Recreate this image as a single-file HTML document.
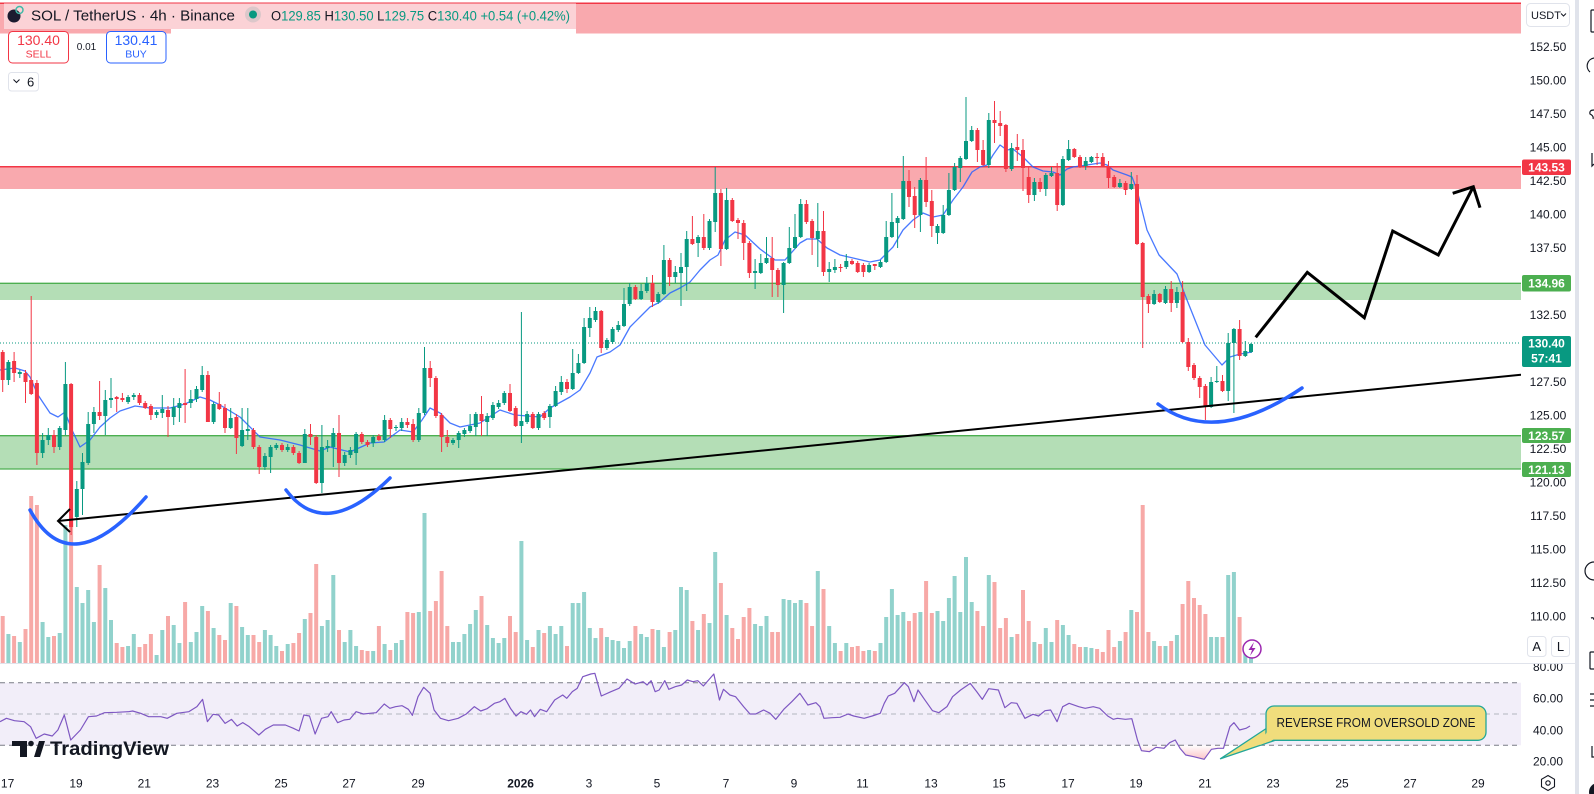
<!DOCTYPE html>
<html><head><meta charset="utf-8">
<style>
html,body{margin:0;padding:0;background:#fff;overflow:hidden;}
svg{display:block;font-family:"Liberation Sans",sans-serif;}
</style></head>
<body>
<svg width="1594" height="794" viewBox="0 0 1594 794" xmlns="http://www.w3.org/2000/svg">
<defs>
<clipPath id="cp"><rect x="0" y="0" width="1521" height="663"/></clipPath>
<clipPath id="cr"><rect x="0" y="664" width="1521" height="102"/></clipPath>
<clipPath id="os"><rect x="0" y="745.3" width="1521" height="25"/></clipPath>
<clipPath id="ax2"><rect x="1521" y="664" width="54" height="102"/></clipPath>
<linearGradient id="og" x1="0" y1="255" x2="0" y2="306" gradientUnits="userSpaceOnUse"><stop offset="0" stop-color="#f23645" stop-opacity="0"/><stop offset="1" stop-color="#f23645" stop-opacity="0.35"/></linearGradient>
</defs>
<rect width="1594" height="794" fill="#fff"/>

<g clip-path="url(#cp)">
 <rect x="0" y="3" width="1521" height="30.5" fill="#f9a9ae"/>
 <line x1="0" y1="3.2" x2="1521" y2="3.2" stroke="#f23645" stroke-width="1.5"/>
 <rect x="0" y="166.7" width="1521" height="22.3" fill="#f9a9ae"/>
 <line x1="0" y1="166.7" x2="1521" y2="166.7" stroke="#f23645" stroke-width="1.5"/>
 <rect x="0" y="283.3" width="1521" height="16.7" fill="#b4deb6"/>
 <line x1="0" y1="283.3" x2="1521" y2="283.3" stroke="#4caf50" stroke-width="1.3"/>
 <rect x="0" y="435.7" width="1521" height="33.3" fill="#b4deb6"/>
 <line x1="0" y1="435.7" x2="1521" y2="435.7" stroke="#4caf50" stroke-width="1.3"/>
 <line x1="0" y1="469" x2="1521" y2="469" stroke="#4caf50" stroke-width="1.3"/>
 <line x1="0" y1="343" x2="1521" y2="343" stroke="#089981" stroke-width="1" stroke-dasharray="1 2"/>

 <g transform="translate(2.7 0) scale(5.7 1)" fill="none">
  <path stroke="#91d2cc" stroke-width="4" vector-effect="non-scaling-stroke" d="M1 634V663M3 642V663M7 622V663M8 637V663M10 633V663M11 525V663M13 587V663M14 603V663M15 590V663M16 622V663M18 588V663M19 620V663M22 646V663M23 634V663M27 655V663M28 630V663M30 625V663M31 643V663M33 642V663M34 632V663M35 606V663M37 628V663M40 603V663M42 627V663M43 635V663M46 630V663M47 635V663M48 646V663M50 644V663M53 619V663M56 626V663M57 620V663M58 575V663M60 642V663M61 630V663M62 646V663M65 651V663M67 644V663M69 643V663M70 640V663M73 612V663M74 513V663M79 642V663M80 642V663M81 634V663M82 624V663M83 610V663M85 625V663M86 638V663M87 643V663M88 638V663M91 541V663M92 640V663M94 630V663M96 626V663M97 634V663M98 626V663M100 603V663M101 603V663M102 592V663M103 628V663M104 638V663M106 637V663M107 640V663M108 641V663M109 648V663M110 641V663M112 634V663M113 637V663M115 630V663M116 647V663M118 630V663M119 587V663M120 590V663M122 630V663M124 623V663M125 552V663M127 615V663M132 624V663M133 626V663M134 616V663M137 599V663M138 600V663M139 603V663M140 600V663M143 571V663M145 626V663M146 643V663M148 643V663M152 650V663M154 643V663M155 617V663M156 589V663M157 615V663M158 612V663M161 612V663M164 611V663M165 621V663M166 598V663M167 576V663M168 612V663M169 557V663M170 602V663M173 575V663M177 637V663M181 642V663M183 628V663M184 642V663M186 625V663M187 635V663M190 647V663M191 648V663M196 641V663M198 610V663M202 641V663M204 646V663M206 635V663M212 637V663M213 637V663M215 575V663M216 572V663M218 650V663M219 652V663"/>
  <path stroke="#f7a9a7" stroke-width="4" vector-effect="non-scaling-stroke" d="M0 616V663M2 636V663M4 629V663M5 496V663M6 505V663M9 636V663M12 517V663M17 565V663M20 643V663M21 647V663M24 647V663M25 644V663M26 634V663M29 616V663M32 602V663M36 611V663M38 635V663M39 640V663M41 606V663M44 635V663M45 642V663M49 651V663M51 643V663M52 633V663M54 613V663M55 564V663M59 630V663M63 650V663M64 651V663M66 626V663M68 650V663M71 612V663M72 613V663M75 611V663M76 601V663M77 571V663M78 626V663M84 596V663M89 616V663M90 632V663M93 647V663M95 633V663M99 646V663M105 628V663M111 626V663M114 629V663M117 632V663M121 621V663M123 614V663M126 583V663M128 628V663M129 639V663M130 617V663M131 608V663M135 632V663M136 632V663M141 603V663M142 626V663M144 589V663M147 651V663M149 647V663M150 646V663M151 651V663M153 651V663M159 621V663M160 613V663M162 581V663M163 613V663M171 611V663M172 626V663M174 582V663M175 628V663M176 618V663M178 634V663M179 590V663M180 621V663M182 644V663M185 620V663M188 644V663M189 647V663M192 649V663M193 652V663M194 630V663M195 647V663M197 632V663M199 612V663M200 505V663M201 632V663M203 646V663M205 641V663M207 604V663M208 581V663M209 598V663M210 605V663M211 614V663M214 637V663M217 617V663"/>
 </g>

 <polyline fill="none" stroke="#2962ff" stroke-opacity="0.85" stroke-width="1.3" stroke-linejoin="round" points="0,370 15,368 25,371 30,377 38,395 50,413 58,417 65,412 72,430 80,447 90,440 100,427 110,418 120,411 135,406 150,408 170,408 185,404 200,397 210,400 220,405 240,417 260,437 280,440 300,445 320,451 330,447 350,452 370,443 384,442 400,430 413,432 422,420 430,408 440,413 450,423 460,427 480,423 500,410 515,415 540,417 550,408 570,397 580,390 590,373 597,357 610,352 620,345 630,327 640,317 650,307 660,302 670,293 680,288 690,282 700,270 710,260 718,255 725,240 735,232 745,235 760,249 775,260 785,260 800,243 807,239 817,239 827,248 840,255 853,258 870,262 880,260 893,247 903,230 913,220 923,213 933,217 943,215 953,200 963,187 972,172 980,167 987,165 993,155 1000,145 1007,150 1013,149 1023,157 1033,167 1043,171 1053,172 1060,175 1067,169 1073,167 1087,165 1100,163 1107,165 1113,170 1127,175 1132,177 1137,190 1147,230 1159,255 1177,274 1187,300 1205,345 1222,365 1230,357 1240,354 1252,352"/>

 <g transform="translate(2.7 0) scale(5.7 1)" fill="none">
  <path stroke="#089981" stroke-width="1" vector-effect="non-scaling-stroke" d="M1 360V385M3 370V378M7 433V458M8 428V445M10 426V450M11 362V435M13 481V527M14 453V515M15 412V465M16 407V433M18 390V435M19 378V408M22 395V404M23 393V400M27 410V418M28 395V418M30 398V425M31 398V422M33 390V408M34 386V402M35 366V392M37 402V424M40 408V429M42 408V447M43 408V440M46 453V470M47 445V473M48 443V450M50 444V452M53 429V463M56 425V493M57 440V452M58 428V467M60 452V466M61 447V458M62 432V465M65 435V447M67 415V442M69 425V431M70 418V431M73 408V442M74 347V415M79 438V445M80 431V448M81 428V437M82 414V433M83 412V436M85 413V436M86 402V420M87 400V409M88 391V405M91 312V443M92 411V424M94 412V430M96 404V428M97 386V407M98 376V395M100 349V390M101 354V374M102 318V364M103 307V337M104 307V322M106 338V350M107 327V344M108 321V332M109 288V327M110 283V306M112 284V300M113 277V293M115 292V304M116 245V295M118 266V283M119 253V306M120 231V291M122 235V257M124 219V250M125 167V232M127 188V250M132 259V289M133 254V274M134 237V264M137 262V313M138 227V264M139 214V249M140 199V238M143 203V267M145 262V282M146 259V273M148 254V269M152 263V273M154 260V268M155 221V263M156 193V238M157 216V248M158 156V220M161 178V232M164 224V244M165 205V234M166 173V216M167 163V191M168 156V182M169 97V160M170 126V142M173 113V168M177 143V171M181 178V201M183 173V196M184 167V177M186 156V206M187 140V161M190 157V170M191 156V163M196 179V188M198 172V190M202 290V305M204 286V304M206 287V308M212 377V408M213 366V383M215 333V401M216 328V413M218 341V357M219 343V353"/>
  <path stroke="#f23645" stroke-width="1" vector-effect="non-scaling-stroke" d="M0 350V392M2 352V382M4 370V403M5 296V395M6 380V465M9 430V453M12 383V535M17 381V420M20 396V412M21 393V402M24 393V405M25 401V409M26 404V420M29 406V437M32 369V423M36 371V422M38 392V410M39 404V433M41 414V454M44 428V449M45 445V474M49 443V452M51 445V455M52 451V464M54 424V445M55 435V484M59 415V477M63 432V444M64 440V447M66 434V441M68 418V438M71 418V428M72 419V442M75 361V387M76 376V418M77 413V452M78 430V447M84 396V436M89 384V412M90 406V427M93 412V429M95 411V420M99 379V393M105 310V353M111 285V300M114 275V307M117 258V286M121 216V245M123 214V250M126 189V266M128 198V222M129 218V239M130 220V260M131 241V278M135 237V297M136 268V297M141 200V224M142 219V255M144 211V276M147 264V272M149 259V265M150 261V273M151 263V277M153 264V270M159 170V207M160 187V228M162 157V207M163 190V237M171 128V162M172 140V166M174 101V143M175 111V136M176 124V172M178 134V161M179 139V191M180 167V203M182 178V192M185 163V211M188 148V158M189 155V168M192 153V165M193 153V167M194 161V188M195 175V188M197 181V195M199 175V245M200 242V348M201 294V313M203 293V303M205 281V312M207 281V343M208 338V371M209 363V380M210 376V398M211 384V420M214 375V392M217 320V360"/>
  <path stroke="#089981" stroke-width="4" vector-effect="non-scaling-stroke" d="M1 362V380M3 372V374M7 440V453M8 435V440M10 428V447M11 384V430M13 489V517M14 462V489M15 424V463M16 412V424M18 400V416M19 398V400M22 397V402M23 395V397M27 412V415M28 409V413M30 407V417M31 403V408M33 399V403M34 389V399M35 375V390M37 404V422M40 418V428M42 430V446M43 429V431M46 456V467M47 447V457M48 445V448M50 447V450M53 434V463M56 447V483M57 446V448M58 433V447M60 455V463M61 450V455M62 434V453M65 437V443M67 420V440M69 427V428M70 422V428M73 413V440M74 368V413M79 440V443M80 433V440M81 430V434M82 426V431M83 414V427M85 416V422M86 405V418M87 403V407M88 393V403M91 421V426M92 414V422M94 414V428M96 406V417M97 391V406M98 382V392M100 373V389M101 363V373M102 327V363M103 318V328M104 311V320M106 340V348M107 329V342M108 325V330M109 304V326M110 287V304M112 291V299M113 283V291M115 294V302M116 260V294M118 272V277M119 267V273M120 239V267M122 237V243M124 221V248M125 193V222M127 200V249M132 271V273M133 263V273M134 258V263M137 263V285M138 248V263M139 237V248M140 204V237M143 231V239M145 269V272M146 267V270M148 261V267M152 265V272M154 262V267M155 237V262M156 222V237M157 218V223M158 181V219M161 180V215M164 226V233M165 215V233M166 190V215M167 167V190M168 158V168M169 141V159M170 130V141M173 120V165M177 148V169M181 182V195M183 175V189M184 173V176M186 159V205M187 149V160M190 161V166M191 157V162M196 183V187M198 184V189M202 294V304M204 289V303M206 292V303M212 382V407M213 381V382M215 343V391M216 329V343M218 351V356M219 344V352"/>
  <path stroke="#f23645" stroke-width="4" vector-effect="non-scaling-stroke" d="M0 352V380M2 361V373M4 373V382M5 380V394M6 383V453M9 435V447M12 384V527M17 412V416M20 397V399M21 398V400M24 395V403M25 403V408M26 406V415M29 410V417M32 403V405M36 375V422M38 404V409M39 408V428M41 417V438M44 430V447M45 447V467M49 445V450M51 447V453M52 453V463M54 434V437M55 437V483M59 433V463M63 434V442M64 442V445M66 436V440M68 420V429M71 422V425M72 424V440M75 368V378M76 378V416M77 415V437M78 437V443M84 414V421M89 393V411M90 408V426M93 414V428M95 413V418M99 382V389M105 311V348M111 287V299M114 283V302M117 260V277M121 239V244M123 237V248M126 193V249M128 200V221M129 220V223M130 223V243M131 243V273M135 258V270M136 270V285M141 204V222M142 221V238M144 231V272M147 267V268M149 261V264M150 263V272M151 265V272M153 264V266M159 181V197M160 196V215M162 180V202M163 201V226M171 130V150M172 150V165M174 120V123M175 123V126M176 125V169M178 147V150M179 150V168M180 177V195M182 182V189M185 173V205M188 149V157M189 157V167M192 157V158M193 157V166M194 166V178M195 177V187M197 183V190M199 184V244M200 243V297M201 296V304M203 294V302M205 289V303M207 292V342M208 342V367M209 365V378M210 378V387M211 386V407M214 381V391M217 329V356"/>
 </g>

 <line x1="58" y1="521" x2="1521" y2="374.7" stroke="#000" stroke-width="2"/>
 <polyline points="70,509 58,521 70,532" fill="none" stroke="#000" stroke-width="2"/>
 <path d="M30 510 Q70 584 146 497" fill="none" stroke="#2962ff" stroke-width="3.5" stroke-linecap="round"/>
 <path d="M286 490 Q325 542 390 478" fill="none" stroke="#2962ff" stroke-width="3.5" stroke-linecap="round"/>
 <path d="M1158 404 Q1215 447 1302 388" fill="none" stroke="#2962ff" stroke-width="3.5" stroke-linecap="round"/>
 <polyline points="1255.7,337.3 1307.3,272.3 1364.3,317.7 1392.7,231 1438.3,255 1473.3,186.7" fill="none" stroke="#000" stroke-width="3"/>
 <polyline points="1452.7,193.3 1473.3,186.7 1480,207.7" fill="none" stroke="#000" stroke-width="3"/>
</g>

<!-- legend -->
<rect x="4" y="3.5" width="572" height="25.5" fill="#fbd2d6"/>
<rect x="171" y="29" width="405" height="4.5" fill="#fff"/>
<circle cx="14" cy="16" r="6.5" fill="#1b1b2f"/>
<circle cx="19.5" cy="10" r="3.5" fill="none" stroke="#3fb9a6" stroke-width="1.5"/>
<text x="31" y="20.5" font-size="15" fill="#131722" textLength="204" lengthAdjust="spacingAndGlyphs">SOL / TetherUS · 4h · Binance</text>
<circle cx="253" cy="14.5" r="8" fill="#dcc7ca"/>
<circle cx="253" cy="14.5" r="4" fill="#089981"/>
<text x="271" y="20.5" font-size="13.5" textLength="299" lengthAdjust="spacingAndGlyphs"><tspan fill="#131722">O</tspan><tspan fill="#089981">129.85 </tspan><tspan fill="#131722">H</tspan><tspan fill="#089981">130.50 </tspan><tspan fill="#131722">L</tspan><tspan fill="#089981">129.75 </tspan><tspan fill="#131722">C</tspan><tspan fill="#089981">130.40 +0.54 (+0.42%)</tspan></text>

<rect x="8.5" y="31.5" width="60" height="31.5" rx="4" fill="#fff" stroke="#f23645"/>
<text x="38.5" y="45" font-size="14" fill="#f23645" text-anchor="middle">130.40</text>
<text x="38.5" y="57.5" font-size="10.5" fill="#f23645" text-anchor="middle">SELL</text>
<text x="86.5" y="50" font-size="10" fill="#131722" text-anchor="middle">0.01</text>
<rect x="106.5" y="31.5" width="59.5" height="31.5" rx="4" fill="#fff" stroke="#2962ff"/>
<text x="136" y="45" font-size="14" fill="#2962ff" text-anchor="middle">130.41</text>
<text x="136" y="57.5" font-size="10.5" fill="#2962ff" text-anchor="middle">BUY</text>
<rect x="8.5" y="72.5" width="30" height="18.5" rx="3" fill="#fff" stroke="#e0e3eb"/>
<polyline points="13.5,79.5 16.5,82.5 19.5,79.5" fill="none" stroke="#131722" stroke-width="1"/>
<text x="27" y="86.5" font-size="13" fill="#131722">6</text>

<line x1="0" y1="663.5" x2="1575" y2="663.5" stroke="#e0e3eb" stroke-width="1"/>

<!-- RSI pane -->
<g clip-path="url(#cr)">
 <rect x="0" y="682.7" width="1521" height="62.6" fill="#f2eef9"/>
 <line x1="0" y1="682.7" x2="1521" y2="682.7" stroke="#787b86" stroke-dasharray="5 4"/>
 <line x1="0" y1="714" x2="1521" y2="714" stroke="#b2b5be" stroke-dasharray="5 4"/>
 <line x1="0" y1="745.3" x2="1521" y2="745.3" stroke="#787b86" stroke-dasharray="5 4"/>
 <g clip-path="url(#os)">
  <polygon transform="translate(0 660) scale(0.80386 0.33333)" fill="url(#og)" points="0,255.9 0,185 8,175 18,182 30,185 38,200 45,235 55,222 65,228 72,210 80,165 88,240 100,210 110,170 120,168 130,158 145,157 160,155 165,153 175,160 185,170 200,170 208,175 220,160 235,155 245,140 252,118 258,185 265,163 272,165 280,190 288,178 295,198 302,188 310,200 322,225 330,208 340,195 355,195 365,205 372,213 378,165 385,168 392,222 400,175 408,170 412,155 420,188 428,180 435,178 443,155 452,162 460,160 468,158 478,132 485,145 492,140 500,137 508,148 513,166 520,110 527,82 535,100 540,150 548,175 558,182 570,175 580,162 590,140 598,153 606,146 615,130 622,125 628,115 635,145 642,168 648,155 655,163 660,150 665,170 672,148 680,155 690,120 700,105 705,115 712,95 718,85 725,50 735,42 740,40 748,108 760,95 770,85 780,57 790,72 800,65 805,75 810,62 815,95 820,90 827,62 832,88 840,80 848,75 855,60 862,65 868,62 875,78 888,42 895,120 900,88 908,105 915,110 925,140 933,162 940,162 950,150 958,160 965,178 975,148 985,125 995,100 1005,135 1015,128 1020,140 1025,175 1035,173 1045,172 1055,162 1062,168 1075,175 1085,168 1095,160 1100,130 1105,108 1113,100 1125,68 1130,80 1137,125 1142,90 1150,118 1160,152 1168,158 1178,140 1185,110 1195,90 1207,70 1215,95 1222,118 1230,86 1242,90 1250,143 1258,128 1265,130 1275,175 1285,163 1292,168 1300,152 1307,150 1315,185 1322,140 1330,130 1342,140 1350,145 1360,140 1368,145 1378,168 1385,178 1390,175 1400,178 1408,176 1415,240 1420,272 1430,275 1438,262 1448,265 1455,248 1462,240 1468,265 1475,285 1485,290 1498,298 1507,268 1515,265 1522,265 1530,200 1535,188 1542,210 1550,205 1555,198 1555,255.9"/>
 </g>
 <polyline transform="translate(0 660) scale(0.80386 0.33333)" fill="none" stroke="#7e57c2" stroke-width="1.2" vector-effect="non-scaling-stroke" stroke-linejoin="round" points="0,185 8,175 18,182 30,185 38,200 45,235 55,222 65,228 72,210 80,165 88,240 100,210 110,170 120,168 130,158 145,157 160,155 165,153 175,160 185,170 200,170 208,175 220,160 235,155 245,140 252,118 258,185 265,163 272,165 280,190 288,178 295,198 302,188 310,200 322,225 330,208 340,195 355,195 365,205 372,213 378,165 385,168 392,222 400,175 408,170 412,155 420,188 428,180 435,178 443,155 452,162 460,160 468,158 478,132 485,145 492,140 500,137 508,148 513,166 520,110 527,82 535,100 540,150 548,175 558,182 570,175 580,162 590,140 598,153 606,146 615,130 622,125 628,115 635,145 642,168 648,155 655,163 660,150 665,170 672,148 680,155 690,120 700,105 705,115 712,95 718,85 725,50 735,42 740,40 748,108 760,95 770,85 780,57 790,72 800,65 805,75 810,62 815,95 820,90 827,62 832,88 840,80 848,75 855,60 862,65 868,62 875,78 888,42 895,120 900,88 908,105 915,110 925,140 933,162 940,162 950,150 958,160 965,178 975,148 985,125 995,100 1005,135 1015,128 1020,140 1025,175 1035,173 1045,172 1055,162 1062,168 1075,175 1085,168 1095,160 1100,130 1105,108 1113,100 1125,68 1130,80 1137,125 1142,90 1150,118 1160,152 1168,158 1178,140 1185,110 1195,90 1207,70 1215,95 1222,118 1230,86 1242,90 1250,143 1258,128 1265,130 1275,175 1285,163 1292,168 1300,152 1307,150 1315,185 1322,140 1330,130 1342,140 1350,145 1360,140 1368,145 1378,168 1385,178 1390,175 1400,178 1408,176 1415,240 1420,272 1430,275 1438,262 1448,265 1455,248 1462,240 1468,265 1475,285 1485,290 1498,298 1507,268 1515,265 1522,265 1530,200 1535,188 1542,210 1550,205 1555,198"/>
 <path d="M12 741 H27 V757 H20 V746 H12 Z" fill="#131722"/>
 <circle cx="31" cy="743.5" r="2.8" fill="#131722"/>
 <path d="M34 757 L39 741 H45 L40 757 Z" fill="#131722"/>
 <text x="50" y="755" font-size="19" font-weight="bold" fill="#131722" textLength="119" lengthAdjust="spacingAndGlyphs">TradingView</text>
 <polygon points="1267,728 1276,740 1220.5,758.7" fill="#f0dd7c" stroke="#22a699" stroke-width="1.3" stroke-linejoin="round"/>
 <rect x="1266" y="706" width="220" height="34.3" rx="8" fill="#f0dd7c" stroke="#22a699" stroke-width="1.3"/>
 <polygon points="1268.5,729 1275,739 1260,745" fill="#f0dd7c"/>
 <text x="1376" y="727" font-size="12.5" fill="#131722" text-anchor="middle" textLength="199" lengthAdjust="spacingAndGlyphs">REVERSE FROM OVERSOLD ZONE</text>
</g>

<circle cx="1252" cy="649" r="9" fill="#fff" stroke="#9c27b0" stroke-width="1.5"/>
<path d="M1254 642 L1248.5 650 H1252 L1250 656 L1255.5 648 H1252 Z" fill="#9c27b0"/>

<!-- price axis -->
<rect x="1526.5" y="3.5" width="43" height="23" rx="4" fill="#fff" stroke="#e0e3eb"/>
<text x="1531" y="19" font-size="11" fill="#131722">USDT</text>
<polyline points="1561,13.5 1563.5,16 1566,13.5" fill="none" stroke="#131722" stroke-width="1"/>
<g font-size="12" fill="#131722" text-anchor="middle">
<text x="1548" y="51">152.50</text>
<text x="1548" y="84.5">150.00</text>
<text x="1548" y="118">147.50</text>
<text x="1548" y="151.5">145.00</text>
<text x="1548" y="185">142.50</text>
<text x="1548" y="218.5">140.00</text>
<text x="1548" y="252">137.50</text>
<text x="1548" y="319">132.50</text>
<text x="1548" y="386">127.50</text>
<text x="1548" y="419.5">125.00</text>
<text x="1548" y="453">122.50</text>
<text x="1548" y="486.5">120.00</text>
<text x="1548" y="520">117.50</text>
<text x="1548" y="553.5">115.00</text>
<text x="1548" y="587">112.50</text>
<text x="1548" y="620.5">110.00</text>
</g>
<rect x="1522" y="159.5" width="49" height="15.5" rx="2" fill="#f23645"/>
<text x="1546.5" y="171.5" font-size="12" font-weight="bold" fill="#fff" text-anchor="middle">143.53</text>
<rect x="1522" y="275" width="49" height="16.5" rx="2" fill="#4caf50"/>
<text x="1546.5" y="287.5" font-size="12" font-weight="bold" fill="#fff" text-anchor="middle">134.96</text>
<rect x="1522" y="336" width="49" height="31" rx="2" fill="#089981"/>
<text x="1546.5" y="347.5" font-size="12" font-weight="bold" fill="#fff" text-anchor="middle">130.40</text>
<text x="1546.5" y="362.5" font-size="12" font-weight="bold" fill="#fff" text-anchor="middle">57:41</text>
<rect x="1522" y="428" width="49" height="15" rx="2" fill="#4caf50"/>
<text x="1546.5" y="440" font-size="12" font-weight="bold" fill="#fff" text-anchor="middle">123.57</text>
<rect x="1522" y="462" width="49" height="15" rx="2" fill="#4caf50"/>
<text x="1546.5" y="474" font-size="12" font-weight="bold" fill="#fff" text-anchor="middle">121.13</text>
<rect x="1527.5" y="636.5" width="18.5" height="20" rx="3" fill="#fff" stroke="#e0e3eb"/>
<text x="1536.7" y="651" font-size="13" fill="#131722" text-anchor="middle">A</text>
<rect x="1551.5" y="636.5" width="18" height="20" rx="3" fill="#fff" stroke="#e0e3eb"/>
<text x="1560.5" y="651" font-size="13" fill="#131722" text-anchor="middle">L</text>

<g font-size="12" fill="#131722" text-anchor="middle">
<text x="1548" y="671" clip-path="url(#ax2)">80.00</text>
<text x="1548" y="702.3">60.00</text>
<text x="1548" y="734.3">40.00</text>
<text x="1548" y="765.3">20.00</text>
</g>

<!-- time axis -->
<g font-size="12" fill="#131722" text-anchor="middle">
<text x="7.6" y="787.5">17</text>
<text x="76" y="787.5">19</text>
<text x="144.3" y="787.5">21</text>
<text x="212.5" y="787.5">23</text>
<text x="281" y="787.5">25</text>
<text x="349" y="787.5">27</text>
<text x="418" y="787.5">29</text>
<text x="520.6" y="787.5" font-weight="bold">2026</text>
<text x="589" y="787.5">3</text>
<text x="657" y="787.5">5</text>
<text x="726" y="787.5">7</text>
<text x="794" y="787.5">9</text>
<text x="862.5" y="787.5">11</text>
<text x="931" y="787.5">13</text>
<text x="999" y="787.5">15</text>
<text x="1068" y="787.5">17</text>
<text x="1136" y="787.5">19</text>
<text x="1205" y="787.5">21</text>
<text x="1273" y="787.5">23</text>
<text x="1342" y="787.5">25</text>
<text x="1410" y="787.5">27</text>
<text x="1478" y="787.5">29</text>
</g>
<path d="M1548 775.5 L1554.5 779.3 V786.7 L1548 790.5 L1541.5 786.7 V779.3 Z" fill="none" stroke="#131722" stroke-width="1.1"/>
<circle cx="1548" cy="783" r="2.2" fill="none" stroke="#131722" stroke-width="1.1"/>

<!-- right toolbar -->
<rect x="1575" y="0" width="4" height="794" fill="#e0e3eb"/>
<g fill="none" stroke="#131722" stroke-width="1.2">
<rect x="1591" y="10" width="8" height="22" rx="1"/>
<path d="M1594 58 A8 8 0 0 0 1590 72"/>
<path d="M1594 110 Q1589 110 1590 114 Q1594 116 1593 119"/>
<path d="M1592 153 V166 L1594 164"/>
<path d="M1594 562 A9 9 0 0 0 1594 580"/>
<path d="M1591 618 Q1594 617 1594 620"/>
<rect x="1590" y="652" width="8" height="17" rx="1"/>
<path d="M1590 694 H1594 M1590 700 H1594 M1590 706 H1594"/>
<path d="M1592 746 V757 H1594"/>
</g>
<circle cx="1598" cy="792" r="9" fill="#131722"/>
</svg>
</body></html>
